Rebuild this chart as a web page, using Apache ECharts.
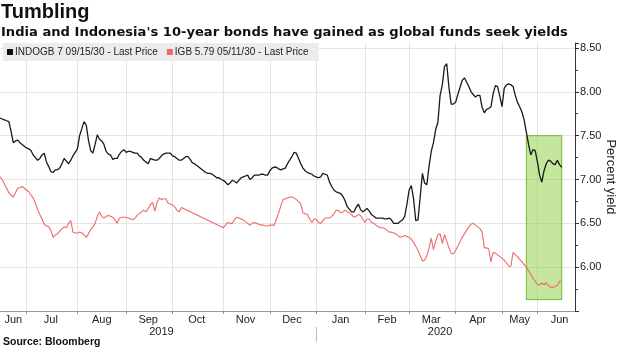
<!DOCTYPE html>
<html><head><meta charset="utf-8">
<script src="https://cdn.jsdelivr.net/npm/echarts@6/dist/echarts.min.js"></script>
<style>html,body{margin:0;padding:0;background:#fff}#c{width:620px;height:348px}</style>
</head><body><div id="c"></div>
<script>
const FONT = '"Liberation Sans", Arial, sans-serif';
const WIDE = '"DejaVu Sans", Verdana, sans-serif';
const titleText = 'Tumbling';
const subtitleText = "India and Indonesia's 10-year bonds have gained as global funds seek yields";
const sourceText = 'Source: Bloomberg';
const seriesNames = ['INDOGB 7 09/15/30 - Last Price', 'IGB 5.79 05/11/30 - Last Price'];
const axisName = 'Percent yield';

// trading-day calendar of the x axis
const startDate = '2019-06-13';
const endDate = '2020-06-24';
const holidays = ['2019-12-25','2020-01-01','2020-03-25','2020-04-10','2020-05-01','2020-05-07','2020-05-22','2020-05-25','2020-05-26'];

// INDOGB 7 09/15/30 yield, one value per trading day from 2019-06-13
const indogb = [
7.70,7.69,7.68,7.67,7.66,7.55,7.42,7.44,7.45,7.42,
7.40,7.38,7.36,7.35,7.33,7.28,7.25,7.22,7.24,7.28,
7.30,7.20,7.15,7.09,7.08,7.11,7.11,7.13,7.18,7.24,
7.21,7.18,7.22,7.27,7.31,7.35,7.50,7.58,7.66,7.62,
7.45,7.33,7.30,7.40,7.51,7.46,7.44,7.40,7.32,7.29,
7.28,7.23,7.24,7.24,7.29,7.32,7.34,7.31,7.32,7.32,
7.31,7.30,7.30,7.27,7.25,7.22,7.20,7.18,7.24,7.23,
7.22,7.22,7.24,7.27,7.29,7.30,7.30,7.30,7.27,7.26,
7.24,7.22,7.22,7.24,7.26,7.26,7.23,7.19,7.18,7.16,
7.14,7.12,7.10,7.08,7.07,7.07,7.06,7.04,7.02,7.02,
7.00,6.99,6.97,6.94,6.96,6.99,6.98,6.96,6.99,7.02,
7.03,7.04,7.05,7.00,7.02,7.05,7.05,7.05,7.06,7.06,
7.05,7.05,7.10,7.13,7.14,7.14,7.12,7.11,7.12,7.13,
7.18,7.22,7.26,7.31,7.30,7.24,7.18,7.13,7.10,7.08,
7.07,7.06,7.04,7.03,7.02,7.03,7.07,7.06,7.05,6.97,
6.92,6.88,6.86,6.85,6.84,6.81,6.76,6.69,6.66,6.63,
6.63,6.68,6.72,6.66,6.63,6.65,6.67,6.64,6.60,6.58,
6.56,6.56,6.56,6.56,6.55,6.55,6.56,6.54,6.50,6.50,
6.50,6.52,6.54,6.58,6.72,6.88,6.93,6.78,6.53,6.54,
6.80,7.07,6.96,6.94,7.15,7.32,7.42,7.57,7.65,7.96,
8.08,8.29,8.32,8.05,7.86,7.86,7.88,7.97,8.05,8.13,
8.16,8.11,8.06,8.00,7.97,7.94,7.96,7.96,7.82,7.76,
7.80,7.81,7.83,7.98,8.07,8.06,7.95,7.83,8.04,8.08,
8.09,8.08,8.06,7.96,7.88,7.83,7.77,7.68,7.54,7.40,
7.28,7.34,7.33,7.20,7.05,6.97,7.10,7.18,7.22,7.21,
7.18,7.17,7.22,7.17,7.14];

// IGB 5.79 05/11/30 yield (null = no price)
const igb = [
7.03,7.00,6.95,6.90,6.85,6.82,6.80,6.85,6.90,6.91,
6.92,6.90,6.88,6.86,6.82,6.79,6.73,6.66,6.60,6.55,
6.49,6.47,6.46,6.42,6.34,6.37,6.38,6.41,6.44,6.46,
6.45,6.50,6.53,6.40,6.39,6.39,6.40,6.39,6.37,6.34,
6.38,6.43,6.46,6.50,6.58,6.63,6.58,6.56,6.58,6.59,
6.58,6.57,6.54,6.50,6.56,6.57,6.57,6.57,6.56,6.55,
6.54,6.56,6.59,6.61,6.63,6.65,6.63,6.67,6.71,6.74,
6.64,6.74,6.79,6.77,6.78,6.78,6.73,6.72,6.71,6.69,
6.65,6.63,6.68,null,null,null,null,null,null,null,
null,null,null,null,null,null,null,null,null,null,
null,6.45,6.48,6.51,6.50,6.50,6.54,6.57,6.56,6.55,
6.54,6.52,6.50,6.48,6.50,6.51,6.50,6.49,6.48,6.48,
6.47,6.47,6.48,6.48,6.48,6.55,6.62,6.70,6.77,6.78,
6.79,6.80,6.80,6.79,6.77,6.75,6.72,6.62,6.61,6.60,
6.55,6.51,6.55,6.55,6.51,6.50,6.53,6.56,6.56,6.56,
6.58,6.61,6.65,6.65,6.62,6.63,6.65,6.63,6.62,6.60,
6.57,6.58,6.60,6.59,6.55,6.51,6.55,6.55,6.51,6.50,
6.48,6.46,6.45,6.45,6.44,6.42,6.40,6.40,6.39,6.38,
6.36,6.34,6.35,6.36,6.35,6.34,6.32,6.28,6.24,6.19,
6.13,6.07,6.08,6.13,6.22,6.33,6.20,6.30,6.37,6.38,
6.27,6.37,6.30,6.22,6.16,6.15,6.19,6.24,6.29,6.34,
6.38,6.42,6.46,6.49,6.50,6.48,6.46,6.44,6.40,6.22,
6.22,6.21,6.06,6.17,6.16,6.14,6.12,6.10,6.08,6.05,
6.01,6.01,6.17,6.14,6.12,6.09,6.06,6.03,6.00,5.96,
5.92,5.87,5.84,5.80,5.80,5.82,5.80,5.82,5.79,5.77,
5.77,5.78,5.79,5.84,5.84];

// tick labels
const monthLabelDates = ['2019-06-21','2019-07-16','2019-08-16','2019-09-16','2019-10-16','2019-11-15','2019-12-16','2020-01-17','2020-02-17','2020-03-16','2020-04-16','2020-05-15','2020-06-15'];
const monthLabelTexts = ['Jun','Jul','Aug','Sep','Oct','Nov','Dec','Jan','Feb','Mar','Apr','May','Jun'];
const yearLabelDates = ['2019-09-24','2020-03-20'];
const yearLabelTexts = ['2019','2020'];
const yearDividerDates = ['2020-01-02'];

// highlighted window
const highlightFrom = '2020-05-20';
const highlightTo = '2020-06-16';
const highlightLow = 5.63;
const highlightHigh = 7.5;

const yMin = 5.5, yMax = 8.557, yStep = 0.5;

function fmt(d){ return d.toISOString().slice(0,10); }
const categories = [];
for (let t = Date.parse(startDate+'T00:00:00Z'); t <= Date.parse(endDate+'T00:00:00Z'); t += 86400000) {
  const d = new Date(t); const w = d.getUTCDay(); const s = fmt(d);
  if (w === 0 || w === 6 || holidays.includes(s)) continue;
  categories.push(s);
}
const monthStart = new Set();
categories.forEach((c,i)=>{ if (i>0 && c.slice(0,7) !== categories[i-1].slice(0,7)) monthStart.add(i); });
const labelMap = {};
monthLabelDates.forEach((d,i)=>{ labelMap[d] = monthLabelTexts[i]; });
yearLabelDates.forEach((d,i)=>{ labelMap[d] = '\n' + yearLabelTexts[i]; });

const grid = '#e4e4e4';
const chart = echarts.init(document.getElementById('c'), null, {renderer:'canvas'});
chart.setOption({
  animation: false,
  textStyle: {fontFamily: FONT},
  title: [
    {text: titleText, left: 1, top: 2, padding: 0, textStyle: {fontFamily: FONT, fontSize: 20, fontWeight: 'bold', color: '#111'}},
    {text: subtitleText, left: 1, top: 26, padding: 0, textStyle: {fontFamily: WIDE, fontSize: 13.1, fontWeight: 'bold', color: '#111'}},
    {text: sourceText, left: 3, top: 337, padding: 0, textStyle: {fontFamily: FONT, fontSize: 10.5, fontWeight: 'bold', color: '#111'}}
  ],
  legend: {
    data: [{name: seriesNames[0], itemStyle: {color: '#111'}}, {name: seriesNames[1], itemStyle: {color: '#f06868'}}],
    icon: 'rect', itemWidth: 6, itemHeight: 6, left: 3, top: 43,
    backgroundColor: '#ececec', padding: [4, 10, 4, 4], itemGap: 9,
    textStyle: {fontFamily: FONT, fontSize: 10, color: '#222', padding: [0,0,0,-3]}
  },
  grid: {left: 0, right: 45, top: 43, bottom: 37, outerBoundsMode: 'none', containLabel: false},
  xAxis: [{
    type: 'category', data: categories, boundaryGap: false,
    axisLine: {lineStyle: {color: '#999'}},
    axisTick: {interval: (i)=>monthStart.has(i), length: 3, lineStyle: {color: '#999'}},
    splitLine: {show: true, interval: (i)=>monthStart.has(i), lineStyle: {color: grid}},
    axisLabel: {interval: (i,v)=> (v in labelMap), formatter: (v)=> labelMap[v] || '',
      fontFamily: FONT, fontSize: 11, color: '#222', lineHeight: 12, margin: 3}
  }, {
    type: 'category', data: categories, boundaryGap: false, position: 'bottom', offset: 16,
    axisLine: {show: false}, axisLabel: {show: false}, splitLine: {show: false},
    axisTick: {show: true, interval: (i,v)=> yearDividerDates.includes(v), length: 15, lineStyle: {color: '#bbb'}}
  }],
  yAxis: {
    type: 'value', position: 'right', min: yMin, max: yMax, interval: yStep,
    axisLine: {show: true, lineStyle: {color: '#333'}},
    axisTick: {show: true, length: 4, lineStyle: {color: '#333'}},
    minorTick: {show: true, splitNumber: 2, length: 3, lineStyle: {color: '#333'}},
    splitLine: {show: true, lineStyle: {color: ['transparent', grid, grid, grid, grid, grid, grid, 'transparent']}},
    axisLabel: {margin: 5, fontFamily: FONT, fontSize: 11, color: '#222',
      formatter: (v)=> (v > 5.9 && Math.abs(v*2 - Math.round(v*2)) < 1e-6) ? v.toFixed(2) : ''},
    name: axisName, nameLocation: 'middle', nameRotate: -90, nameGap: 29, nameMoveOverlap: false,
    nameTextStyle: {fontFamily: FONT, fontSize: 13, color: '#222'}
  },
  series: [
    {name: seriesNames[1], type: 'line', data: igb, connectNulls: true, showSymbol: false, z: 2,
     itemStyle: {color: '#f06868'}, lineStyle: {color: '#f06868', width: 1.1}},
    {name: seriesNames[0], type: 'line', data: indogb, showSymbol: false, z: 3,
     itemStyle: {color: '#111'}, lineStyle: {color: '#1a1a1a', width: 1.3}},
    {name: 'highlight', type: 'line', data: [], z: 5,
     markArea: {silent: true,
       itemStyle: {color: 'rgba(140,205,60,0.5)', borderColor: 'rgba(105,170,40,0.85)', borderWidth: 1},
       data: [[{xAxis: highlightFrom, yAxis: highlightLow}, {xAxis: highlightTo, yAxis: highlightHigh}]]}}
  ]
});
</script></body></html>
